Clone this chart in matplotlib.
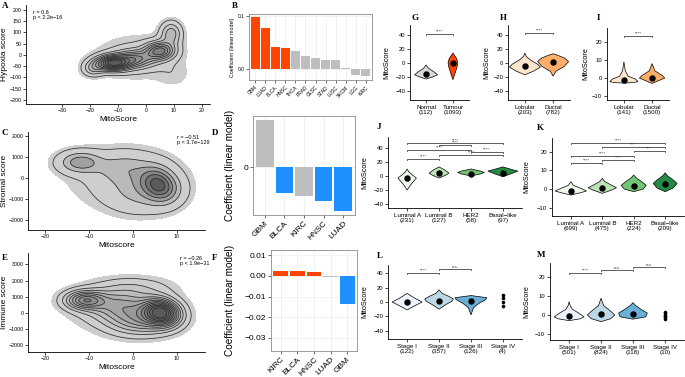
import numpy as np
import matplotlib
matplotlib.use('Agg')
import matplotlib.pyplot as plt

plt.rcParams['font.family'] = ['Liberation Sans', 'DejaVu Sans']

HYPOXIA_BLOBS = [(-12, -36, 4, 22, 1.0), (-4, -18, 4.5, 26, 0.5), (5, 18, 3.5, 26, 0.7),
                 (9, 95, 2.5, 35, 0.35), (-19, -62, 2.5, 22, 0.25), (-3, -10, 10, 65, 0.12),
                 (10, -90, 4, 40, 0.05)]
STROMAL_BLOBS = [(5, -100, 2.5, 450, 0.6), (7, -550, 2.5, 450, 0.6), (-12, 750, 3.0, 320, 0.6),
                 (-2, 500, 4.5, 450, 0.3), (2, -600, 5, 650, 0.3), (-2, 0, 9, 1000, 0.12)]
IMMUNE_BLOBS = [(5.5, 200, 2.5, 500, 0.6), (7.5, -100, 2.5, 500, 0.6), (-11, 800, 3.0, 380, 0.65),
                (-3, 500, 5, 600, 0.35), (2, -500, 5, 600, 0.4), (0, 1600, 6, 450, 0.12),
                (-2, 300, 8, 1000, 0.15)]
STATS_A = 'r = 0.6\np < 2.2e\u221216'
STATS_C = 'r = \u22120.51\np < 3.7e\u2212129'
STATS_E = 'r = \u22120.26\np < 1.9e\u221231'

# B / D / F coefficients
B_CANCERS = ['GBM', 'LUAD', 'BLCA', 'HNSC', 'THCA', 'PRAD', 'CESC', 'STAD', 'LUSC', 'SKCM', 'LGG', 'KIRC']
B_COEF = [0.098, 0.078, 0.041, 0.040, 0.034, 0.025, 0.021, 0.017, 0.017, 0.002, -0.012, -0.014]
B_GROUP = ['up', 'up', 'up', 'up', 'ns', 'ns', 'ns', 'ns', 'ns', 'ns', 'ns', 'ns']
D_CANCERS = ['GBM', 'BLCA', 'KIRC', 'HNSC', 'LUAD']
D_COEF = [0.047, -0.026, -0.029, -0.034, -0.044]
D_GROUP = ['ns', 'down', 'ns', 'down', 'down']
F_CANCERS = ['KIRC', 'BLCA', 'HNSC', 'LUAD', 'GBM']
F_COEF = [0.0025, 0.0024, 0.0018, -0.0003, -0.0138]
F_GROUP = ['up', 'up', 'up', 'ns', 'down']
GROUP_COLORS = {'up': '#FF4500', 'ns': '#BEBEBE', 'down': '#1E90FF'}

# violin outlines: value knots and half widths
G_LABELS = ['Normal\n(112)', 'Tumour\n(1093)']
G_KNOTS_Y = [[-23, -20, -17, -13, -8, -3], [-24, -15, -5, 0, 6, 14]]
G_KNOTS_W = [[0, 0.25, 0.43, 0.3, 0.1, 0], [0, 0.08, 0.16, 0.18, 0.14, 0]]
G_MEANS = [-16, 0.5]
G_COLORS = ['#D9D9D9', '#FF4500']
G_BRACKETS = [(1, 2, 41, '****')]

H_LABELS = ['Lobular\n(203)', 'Ductal\n(782)']
H_KNOTS_Y = [[-17, -12, -6, -2, 4, 9, 14], [-19, -12, -5, 2, 7, 11, 13]]
H_KNOTS_W = [[0, 0.3, 0.55, 0.45, 0.2, 0.05, 0], [0, 0.1, 0.4, 0.55, 0.4, 0.15, 0]]
H_MEANS = [-4, 1.5]
H_COLORS = ['#FEE6CE', '#FDAE6B']
H_BRACKETS = [(1, 2, 43, '****')]

I_LABELS = ['Lobular\n(141)', 'Ductal\n(1500)']
I_KNOTS_Y = [[-2.8, -2.5, -2, -0.5, 1, 4, 9], [-3, -2, 0, 1.5, 4, 8]]
I_KNOTS_W = [[0, 0.35, 0.5, 0.4, 0.15, 0.05, 0], [0, 0.15, 0.45, 0.35, 0.1, 0]]
I_MEANS = [-1, 0.3]
I_COLORS = ['#FEE6CE', '#FDAE6B']
I_BRACKETS = [(1, 2, 23.5, '****')]

PAM50_COLORS = ['#EDF8E9', '#BAE4B3', '#74C476', '#238B45']
J_LABELS = ['Luminal A\n(231)', 'Luminal B\n(127)', 'HER2\n(58)', 'Basal\u2212like\n(97)']
J_KNOTS_Y = [[-20, -12, -3, 2, 6, 10], [-3, 1, 4, 8, 13], [0, 3, 5, 7, 10], [-1, 3, 7, 9, 13]]
J_KNOTS_W = [[0, 0.12, 0.29, 0.15, 0.05, 0], [0, 0.2, 0.31, 0.2, 0], [0, 0.3, 0.42, 0.3, 0],
             [0, 0.25, 0.47, 0.3, 0]]
J_MEANS = [-3, 4, 3.5, 5]
J_BRACKETS = [(1, 4, 47.6, '****'), (2, 3, 43.9, '****'), (1, 3, 37, '****'),
              (3, 4, 33.9, '****'), (2, 4, 30, '****'), (1, 2, 23.9, '****')]

K_LABELS = ['Luminal A\n(699)', 'Luminal B\n(475)', 'HER2\n(224)', 'Basal\u2212like\n(209)']
K_KNOTS_Y = [[-3.2, -2, -1, 0.5, 2, 3.9], [-2.3, -0.5, 0.7, 2, 4, 5.7],
             [-1.4, 0, 2, 4, 6, 7.5], [-1.4, 0.5, 3, 5, 7, 8.7]]
K_KNOTS_W = [[0, 0.3, 0.5, 0.3, 0.08, 0], [0, 0.3, 0.45, 0.3, 0.08, 0],
             [0, 0.3, 0.4, 0.25, 0.08, 0], [0, 0.25, 0.38, 0.25, 0.08, 0]]
K_MEANS = [-1, 0.7, 1.8, 2.8]
K_BRACKETS = [(1, 4, 24.8, '****'), (2, 4, 22.6, '****'), (3, 4, 20.5, '****'),
              (1, 3, 17.6, '****'), (2, 3, 15.5, '****'), (1, 2, 13.7, '****')]

STAGE_COLORS = ['#EFF3FF', '#BDD7E7', '#6BAED6']
L_LABELS = ['Stage I\n(122)', 'Stage II\n(357)', 'Stage III\n(126)', 'Stage IV\n(4)']
L_KNOTS_Y = [[-11, -5, 0, 5, 12], [-10, -4, 1, 4, 8, 12, 17], [-18, -8, -2, 3, 6, 9]]
L_KNOTS_W = [[0, 0.25, 0.47, 0.25, 0], [0, 0.2, 0.4, 0.45, 0.3, 0.1, 0], [0, 0.08, 0.25, 0.45, 0.5, 0]]
L_MEANS = [0, 2, 2]
L_STAGE4 = [9.8, 5.2, 0.5, -5.6]
L_BRACKETS = [(1, 2, 41, '****'), (2, 3, 46, 'n.s.')]

M_LABELS = ['Stage I\n(501)', 'Stage II\n(824)', 'Stage III\n(118)', 'Stage IV\n(10)']
M_KNOTS_Y = [[-3, -2, -1, 1, 3, 5, 7], [-3.5, -2, 0, 2, 5, 8.8], [-2.2, -1, 1, 3, 5, 6.5]]
M_KNOTS_W = [[0, 0.35, 0.47, 0.3, 0.1, 0.03, 0], [0, 0.3, 0.43, 0.3, 0.08, 0], [0, 0.4, 0.45, 0.25, 0.08, 0]]
M_MEANS = [-0.5, 0.5, 0.5]
M_STAGE4 = [1.7, 0.9, 0.2, -0.5, -1.3, -2.2]
M_BRACKETS = [(1, 2, 22.3, '****'), (2, 3, 23.7, 'n.s.'), (3, 4, 25.1, 'n.s.')]

W, H = 685, 377


def px_axes(fig, box):
    x0, y0, x1, y1 = box
    return fig.add_axes([x0 / W, 1 - y1 / H, (x1 - x0) / W, (y1 - y0) / H])


def ylabel_at(ax, box, xpx):
    ax.yaxis.set_label_coords((xpx - box[0]) / (box[2] - box[0]), 0.5)


def letter(fig, x, y, s):
    fig.text(x / W, 1 - y / H, s, family='Liberation Serif', fontweight='bold',
             fontsize=6.5, ha='left', va='center')


def minus(ticks):
    return [str(t).replace('-', '\u2212') for t in ticks]


def density_panel(ax, blobs, xlim, ylim, xticks, yticks, nlev, ylabel, stats, stats_xy):
    xs = np.linspace(xlim[0], xlim[1], 300)
    ys = np.linspace(ylim[0], ylim[1], 300)
    xx, yy = np.meshgrid(xs, ys)
    zz = np.zeros_like(xx)
    for cx, cy, sx, sy, w in blobs:
        zz += w * np.exp(-0.5 * (((xx - cx) / sx) ** 2 + ((yy - cy) / sy) ** 2))
    zm = zz.max()
    lev = np.linspace(0.07, 0.88, nlev) * zm
    ax.contourf(xx, yy, zz, levels=[0.035 * zm, lev[0]], colors=['#CDCDCD'])
    fills = plt.cm.Greys(np.linspace(0.3, 0.72, nlev))
    ax.contourf(xx, yy, zz, levels=list(lev) + [zm * 1.01], colors=fills)
    ax.contour(xx, yy, zz, levels=lev, colors='#2b2b2b', linewidths=0.55)
    ax.set_xlim(xlim)
    ax.set_ylim(ylim)
    ax.set_xticks(xticks)
    ax.set_yticks(yticks)
    ax.set_yticklabels(minus(yticks))
    ax.set_xticklabels(minus(xticks))
    ax.tick_params(labelsize=3.8, length=2, width=0.5, pad=1.2)
    for s in ['top', 'right']:
        ax.spines[s].set_visible(False)
    for s in ['left', 'bottom']:
        ax.spines[s].set_linewidth(0.6)
    ax.set_ylabel(ylabel, fontsize=6)
    ax.text(stats_xy[0], stats_xy[1], stats, transform=ax.transAxes, fontsize=4,
            va='top', ha='left', linespacing=1.1)


def bar_panel(ax, cancers, coef, groups, ylim, yticks, yticklabels, tick_fs, label_fs):
    x = np.arange(1, len(cancers) + 1)
    ax.bar(x, coef, width=0.9, color=[GROUP_COLORS[g] for g in groups], zorder=2)
    ax.set_xlim(0.4, len(cancers) + 0.6)
    ax.set_ylim(ylim)
    ax.set_xticks(x)
    ax.set_xticklabels(cancers, rotation=45, ha='right', rotation_mode='anchor')
    ax.set_yticks(yticks)
    ax.set_yticklabels(yticklabels)
    ax.grid(color='#EBEBEB', lw=0.5, zorder=0)
    ax.set_axisbelow(True)
    ax.tick_params(labelsize=tick_fs, length=2, width=0.5, pad=1.5, color='#333333')
    for s in ax.spines.values():
        s.set_color('#8C8C8C')
        s.set_linewidth(0.6)
    ax.set_ylabel('Coefficient (linear model)', fontsize=label_fs)


def violin_panel(ax, labels, knots_y, knots_w, means, colors, brackets, ylim, yticks, stage4=None):
    for i, (ky, kw) in enumerate(zip(knots_y, knots_w)):
        pos = i + 1
        ky = np.asarray(ky, float)
        kw = np.asarray(kw, float)
        ax.fill(np.concatenate([pos - kw, (pos + kw)[::-1]]), np.concatenate([ky, ky[::-1]]),
                facecolor=colors[i], edgecolor='black', lw=0.5, zorder=2)
        ax.plot(pos, means[i], 'o', color='black', ms=3.6, zorder=3)
    if stage4 is not None:
        ax.plot([4] * len(stage4), stage4, 'o', color='black', ms=1.6, zorder=3)
    tip = (ylim[1] - ylim[0]) * 0.012
    for a, b, y, lab in brackets:
        ax.plot([a, a, b, b], [y - tip, y, y, y - tip], color='#333333', lw=0.55, zorder=2)
        ax.text((a + b) / 2, y + tip * 0.3, lab, ha='center', va='bottom', fontsize=3.2, color='#333333')
    ax.set_xlim(0.4, len(labels) + 0.6)
    ax.set_ylim(ylim)
    ax.set_xticks(np.arange(1, len(labels) + 1))
    ax.set_xticklabels(labels, linespacing=1.0)
    ax.set_yticks(yticks)
    ax.set_yticklabels(minus(yticks))
    ax.tick_params(axis='x', labelsize=4.5, length=2, width=0.5, pad=1.5)
    ax.tick_params(axis='y', labelsize=4.2, length=2, width=0.5, pad=1.5)
    for s in ['top', 'right']:
        ax.spines[s].set_visible(False)
    for s in ['left', 'bottom']:
        ax.spines[s].set_linewidth(0.6)
    ax.set_ylabel('MitoScore', fontsize=5.3)


def main():
    fig = plt.figure(figsize=(W / 100, H / 100), dpi=100)

    # A, C, E
    box = (26, 5, 210, 104)
    ax = px_axes(fig, box)
    density_panel(ax, HYPOXIA_BLOBS, (-42.9, 22.9), (-218, 222), [-30, -20, -10, 0, 10, 20],
                  [-200, -150, -100, -50, 0, 50, 100, 150, 200], 10, 'Hypoxia score', STATS_A, (0.04, 0.95))
    ax.set_xlabel('MitoScore', fontsize=6, labelpad=2)
    ylabel_at(ax, box, 8)
    box = (28, 132, 205, 230)
    ax = px_axes(fig, box)
    density_panel(ax, STROMAL_BLOBS, (-23.9, 16.4), (-2476, 2190), [-20, -10, 0, 10],
                  [-2000, -1000, 0, 1000, 2000], 6, 'Stromal score', STATS_C, (0.84, 0.97))
    ax.set_xlabel('Mitoscore', fontsize=6, labelpad=2)
    ylabel_at(ax, box, 8)
    box = (28, 253, 205, 352)
    ax = px_axes(fig, box)
    density_panel(ax, IMMUNE_BLOBS, (-23.9, 16.4), (-2407, 3700), [-20, -10, 0, 10],
                  [-2000, -1000, 0, 1000, 2000, 3000], 12, 'Immune score', STATS_E, (0.86, 0.97))
    ax.set_xlabel('Mitoscore', fontsize=6, labelpad=2)
    ylabel_at(ax, box, 8)

    # B, D, F
    box = (249, 14, 372, 80)
    ax = px_axes(fig, box)
    bar_panel(ax, B_CANCERS, B_COEF, B_GROUP, (-0.0208, 0.1038), [0.0, 0.1], ['0.0', '0.1'], 3.5, 3.8)
    ylabel_at(ax, box, 235)
    box = (253, 116, 355, 215)
    ax = px_axes(fig, box)
    bar_panel(ax, D_CANCERS, D_COEF, D_GROUP, (-0.048, 0.051), [0], ['0'], 6, 7.2)
    ylabel_at(ax, box, 235)
    box = (271, 250, 357, 351)
    ax = px_axes(fig, box)
    bar_panel(ax, F_CANCERS, F_COEF, F_GROUP, (-0.0364, 0.0126), [0.01, 0.0, -0.01, -0.02, -0.03],
              ['0.01', '0.00', '\u22120.01', '\u22120.02', '\u22120.03'], 6, 7.2)
    ylabel_at(ax, box, 235)

    # G, H, I
    box = (410, 25, 469, 100)
    ax = px_axes(fig, box)
    violin_panel(ax, G_LABELS, G_KNOTS_Y, G_KNOTS_W, G_MEANS, G_COLORS, G_BRACKETS, (-53, 54), [-40, -20, 0, 20, 40])
    ylabel_at(ax, box, 390)
    box = (508, 25, 570, 100)
    ax = px_axes(fig, box)
    violin_panel(ax, H_LABELS, H_KNOTS_Y, H_KNOTS_W, H_MEANS, H_COLORS, H_BRACKETS, (-53, 54), [-40, -20, 0, 20, 40])
    ylabel_at(ax, box, 490)
    box = (607, 28, 669, 100)
    ax = px_axes(fig, box)
    violin_panel(ax, I_LABELS, I_KNOTS_Y, I_KNOTS_W, I_MEANS, I_COLORS, I_BRACKETS, (-12.2, 27.8), [-10, 0, 10, 20])
    ylabel_at(ax, box, 589)

    # J, K
    box = (388, 137, 522, 208)
    ax = px_axes(fig, box)
    violin_panel(ax, J_LABELS, J_KNOTS_Y, J_KNOTS_W, J_MEANS, PAM50_COLORS, J_BRACKETS, (-45.7, 55.7), [-40, -20, 0, 20, 40])
    ylabel_at(ax, box, 368)
    box = (552, 138, 684, 216)
    ax = px_axes(fig, box)
    violin_panel(ax, K_LABELS, K_KNOTS_Y, K_KNOTS_W, K_MEANS, PAM50_COLORS, K_BRACKETS, (-14.4, 27.3), [-10, 0, 10, 20])
    ylabel_at(ax, box, 530)

    # L, M
    box = (388, 265, 522, 339)
    ax = px_axes(fig, box)
    violin_panel(ax, L_LABELS, L_KNOTS_Y, L_KNOTS_W, L_MEANS, STAGE_COLORS, L_BRACKETS, (-51.7, 51.7),
                 [-40, -20, 0, 20, 40], stage4=L_STAGE4)
    ylabel_at(ax, box, 368)
    box = (550, 263, 684, 340)
    ax = px_axes(fig, box)
    violin_panel(ax, M_LABELS, M_KNOTS_Y, M_KNOTS_W, M_MEANS, STAGE_COLORS, M_BRACKETS, (-13.2, 27.4),
                 [-10, 0, 10, 20], stage4=M_STAGE4)
    ylabel_at(ax, box, 530)

    for x, y, s in [(2, 6, 'A'), (232, 6, 'B'), (2, 133, 'C'), (212, 133, 'D'), (2, 258, 'E'),
                    (212, 258, 'F'), (411, 18, 'G'), (500, 18, 'H'), (597, 18, 'I'), (377, 127, 'J'),
                    (537, 128, 'K'), (377, 256, 'L'), (537, 255, 'M')]:
        letter(fig, x, y, s)

    fig.savefig('out.png', dpi=100)


if __name__ == '__main__':
    main()
